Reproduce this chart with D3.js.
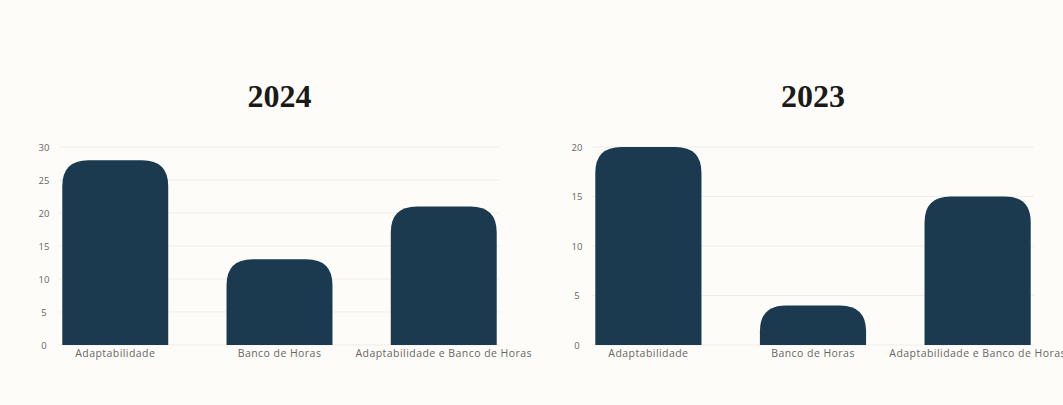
<!doctype html>
<html lang="pt">
<head>
  <meta charset="utf-8">
  <title>Adaptabilidade e Banco de Horas</title>
  <style>
    body { margin: 0; background: #fefcf8; overflow: hidden; }
    #chart { width: 1063px; height: 405px; }
    .title { font-family: "Liberation Serif", "DejaVu Serif", serif; font-weight: bold; font-size: 32px; fill: #1a1a1a; }
    .tick text { font-family: "Open Sans", "Liberation Sans", sans-serif; fill: #666; }
    .y-axis .tick text { font-size: 9.5px; }
    .x-axis .tick text { font-size: 10.5px; letter-spacing: 0.45px; }
    .grid line { stroke: #f1ede6; }
    .bar { fill: #1b3a4f; }
  </style>
</head>
<body>
  <div id="chart"></div>

<script src="https://d3js.org/d3.v7.min.js"></script>
<script>
  // categories shared by both panels
  const categories = ['Adaptabilidade', 'Banco de Horas', 'Adaptabilidade e Banco de Horas'];

  // values
  const values2024 = [28, 13, 21];
  const values2023 = [20, 4, 15];

  const ticks2024 = [0, 5, 10, 15, 20, 25, 30];
  const ticks2023 = [0, 5, 10, 15, 20];

  const svg = d3.select('#chart')
    .append('svg')
    .attr('width', 1063)
    .attr('height', 405);

  // path for a bar with rounded top corners only
  function roundTop(x, y, w, h, r) {
    r = Math.min(r, h, w / 2);
    return `M${x},${y + h}V${y + r}Q${x},${y} ${x + r},${y}H${x + w - r}Q${x + w},${y} ${x + w},${y + r}V${y + h}Z`;
  }

  function drawPanel(left, right, title, values, ticks) {
    const top = 147, bottom = 345;

    const x = d3.scaleBand()
      .domain(categories)
      .range([left, right])
      .paddingInner(0.355)
      .paddingOuter(0.02);

    const y = d3.scaleLinear()
      .domain([0, d3.max(ticks)])
      .range([bottom, top]);

    const g = svg.append('g');

    // horizontal grid lines
    g.append('g')
      .attr('class', 'grid')
      .selectAll('line')
      .data(ticks)
      .join('line')
      .attr('x1', left)
      .attr('x2', right)
      .attr('y1', d => y(d))
      .attr('y2', d => y(d));

    // y axis, labels only
    const yAxis = g.append('g')
      .attr('class', 'y-axis')
      .attr('transform', `translate(${left - 15},0)`)
      .call(d3.axisLeft(y).tickValues(ticks).tickSize(0).tickPadding(0));
    yAxis.select('.domain').remove();
    yAxis.selectAll('text').attr('text-anchor', 'middle');

    // x axis, labels only
    const xAxis = g.append('g')
      .attr('class', 'x-axis')
      .attr('transform', `translate(0,${bottom})`)
      .call(d3.axisBottom(x).tickSize(0).tickPadding(5));
    xAxis.select('.domain').remove();

    // bars
    g.append('g')
      .selectAll('path')
      .data(values)
      .join('path')
      .attr('class', 'bar')
      .attr('d', (d, i) => roundTop(x(categories[i]), y(d), x.bandwidth(), bottom - y(d), 26));

    // panel title
    svg.append('text')
      .attr('class', 'title')
      .attr('x', (left + right) / 2)
      .attr('y', 107)
      .attr('text-anchor', 'middle')
      .text(title);
  }

  drawPanel(59, 500, '2024', values2024, ticks2024);
  drawPanel(592, 1034, '2023', values2023, ticks2023);
</script>
</body>
</html>
